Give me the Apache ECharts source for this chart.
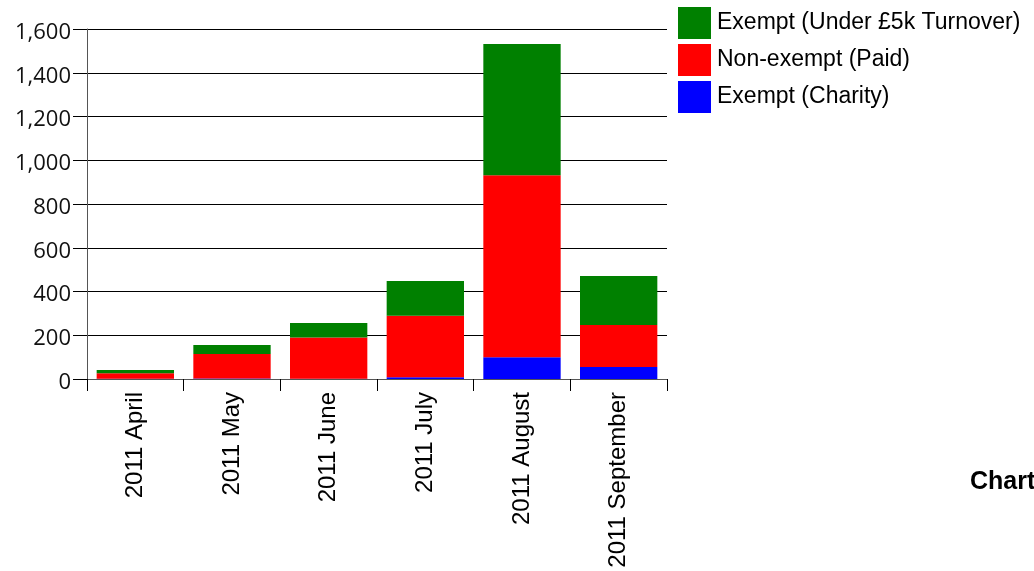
<!DOCTYPE html>
<html>
<head>
<meta charset="utf-8">
<title>Registrations by month</title>
<script src="https://cdn.jsdelivr.net/npm/echarts@6/dist/echarts.min.js"></script>
<style>
  html, body { margin: 0; padding: 0; background: #fff; }
  #chart { width: 1034px; height: 571px; }
</style>
</head>
<body>
<div id="chart"></div>
<script>
// Monthly counts, split by exemption status
const months = ['2011 April', '2011 May', '2011 June', '2011 July', '2011 August', '2011 September'];
const charity = [1, 2, 1, 8, 100, 55];
const paid = [25, 112, 189, 281, 832, 192];
const underTurnover = [15, 41, 66, 159, 599, 224];
const yTicks = [0, 200, 400, 600, 800, 1000, 1200, 1400, 1600];

const chart = echarts.init(document.getElementById('chart'), null, { renderer: 'canvas' });

const axisColor = '#555';

chart.setOption({
  animation: false,
  backgroundColor: '#fff',
  grid: { left: 87, right: 367, top: 29, bottom: 192, containLabel: false },
  legend: {
    orient: 'vertical',
    left: 678,
    top: 7,
    padding: 0,
    itemWidth: 33,
    itemHeight: 32,
    itemGap: 5,
    icon: 'rect',
    selectedMode: false,
    data: ['Exempt (Under £5k Turnover)', 'Non-exempt (Paid)', 'Exempt (Charity)'],
    textStyle: { fontFamily: 'Liberation Sans', fontSize: 23, color: '#000', padding: [0, 0, 0, 1] }
  },
  xAxis: {
    type: 'category',
    data: months,
    axisLine: { show: true, lineStyle: { color: axisColor, width: 1 } },
    axisTick: { show: true, length: 12, alignWithLabel: false, lineStyle: { color: '#000' } },
    axisLabel: {
      rotate: 90,
      margin: 13,
      interval: 0,
      fontFamily: 'Liberation Sans',
      fontSize: 24,
      color: '#000'
    },
    splitLine: { show: false }
  },
  yAxis: {
    type: 'value',
    min: yTicks[0],
    max: yTicks[yTicks.length - 1],
    interval: 200,
    axisLine: { show: true, lineStyle: { color: axisColor, width: 1 } },
    axisTick: { show: true, length: 14, lineStyle: { color: '#000' } },
    axisLabel: {
      margin: 16,
      fontFamily: 'Open Sans',
      fontSize: 22,
      color: '#111',
      verticalAlign: 'top',
      lineHeight: 7,
      formatter: v => v.toLocaleString('en-GB')
    },
    splitLine: { show: true, lineStyle: { color: '#000', width: 1 } }
  },
  series: [
    {
      name: 'Exempt (Charity)', type: 'bar', stack: 'total', barWidth: '80%',
      itemStyle: { color: '#0000ff' }, data: charity
    },
    {
      name: 'Non-exempt (Paid)', type: 'bar', stack: 'total', barWidth: '80%',
      itemStyle: { color: '#ff0000' }, data: paid
    },
    {
      name: 'Exempt (Under £5k Turnover)', type: 'bar', stack: 'total', barWidth: '80%',
      itemStyle: { color: '#008000' }, data: underTurnover
    }
  ],
  graphic: [
    {
      type: 'text',
      left: 970,
      top: 470,
      style: { text: 'Chart', fontFamily: 'Liberation Sans', fontWeight: 'bold', fontSize: 25, fill: '#000' }
    }
  ]
});
</script>
</body>
</html>
